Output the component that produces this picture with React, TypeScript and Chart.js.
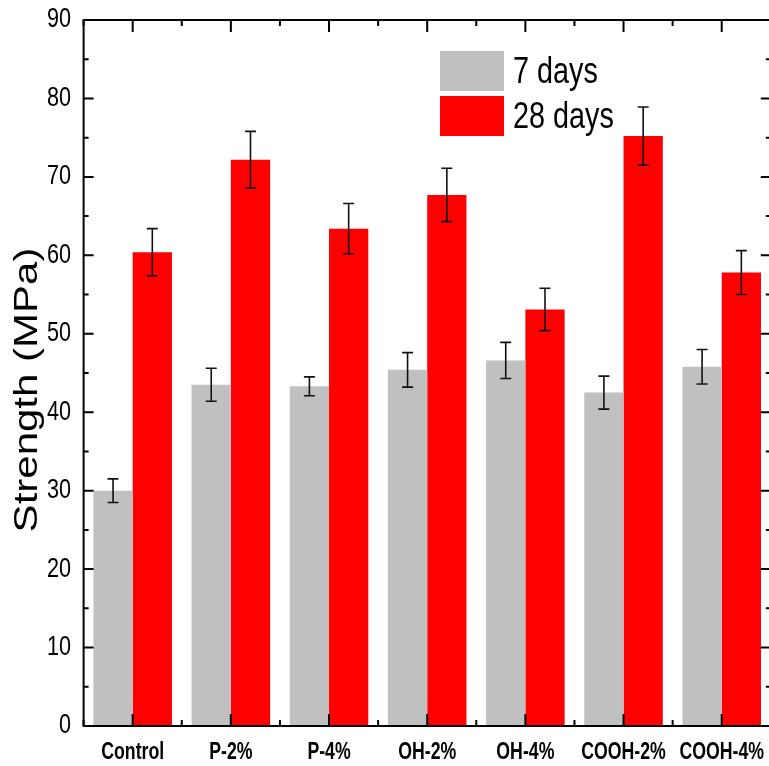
import { useEffect, useRef } from 'react';
import { Chart, registerables } from 'chart.js';

Chart.register(...registerables);

const categories = ['Control', 'P-2%', 'P-4%', 'OH-2%', 'OH-4%', 'COOH-2%', 'COOH-4%'];
const seriesNames = ['7 days', '28 days'];
const days7 = [30.0, 43.5, 43.3, 45.4, 46.6, 42.5, 45.8];
const err7 = [1.5, 2.1, 1.2, 2.2, 2.3, 2.1, 2.2];
const days28 = [60.4, 72.2, 63.4, 67.7, 53.1, 75.2, 57.8];
const err28 = [3.0, 3.6, 3.2, 3.4, 2.7, 3.7, 2.8];
const errors = [err7, err28];
const yMin = 0;
const yMax = 90;
const yStep = 10;
const yTitle = 'Strength (MPa)';
const seriesColors = ['#c0c0c0', '#ff0000'];

const FONT = "Arial, 'Liberation Sans', sans-serif";

const errorBarPlugin = {
  id: 'errorBars',
  afterDatasetsDraw(chart: any) {
    const ctx = chart.ctx;
    const y = chart.scales.y;
    ctx.save();
    ctx.strokeStyle = '#111';
    ctx.lineWidth = 1.6;
    chart.data.datasets.forEach((ds: any, i: number) => {
      const meta = chart.getDatasetMeta(i);
      meta.data.forEach((bar: any, j: number) => {
        const v = ds.data[j];
        const e = errors[i][j];
        const x = bar.x;
        const yt = y.getPixelForValue(v + e);
        const yb = y.getPixelForValue(v - e);
        ctx.beginPath();
        ctx.moveTo(x, yt);
        ctx.lineTo(x, yb);
        ctx.moveTo(x - 5.5, yt);
        ctx.lineTo(x + 5.5, yt);
        ctx.moveTo(x - 5.5, yb);
        ctx.lineTo(x + 5.5, yb);
        ctx.stroke();
      });
    });
    ctx.restore();
  },
};

const framePlugin = {
  id: 'frameAndText',
  afterDraw(chart: any) {
    const ctx = chart.ctx;
    const { left, right, top, bottom } = chart.chartArea;
    const xs = chart.scales.x;
    const ys = chart.scales.y;
    ctx.save();
    ctx.strokeStyle = '#000';
    ctx.lineWidth = 2;
    ctx.strokeRect(left, top, right - left, bottom - top);
    ctx.beginPath();
    for (let v = yMin; v <= yMax; v += yStep / 2) {
      const py = ys.getPixelForValue(v);
      const major = Math.round(v) % yStep === 0;
      const len = major ? 10 : 5;
      ctx.moveTo(left, py);
      ctx.lineTo(left + len, py);
      ctx.moveTo(right, py);
      ctx.lineTo(right - len, py);
    }
    const n = categories.length;
    for (let j = 0; j < n; j++) {
      const px = xs.getPixelForValue(j);
      ctx.moveTo(px, bottom);
      ctx.lineTo(px, bottom - 12);
      ctx.moveTo(px, top);
      ctx.lineTo(px, top + 12);
    }
    for (let j = 0; j <= n; j++) {
      const px = xs.getPixelForValue(j - 0.5);
      ctx.moveTo(px, bottom);
      ctx.lineTo(px, bottom - 6);
      ctx.moveTo(px, top);
      ctx.lineTo(px, top + 6);
    }
    ctx.stroke();

    ctx.fillStyle = '#000';

    // y tick labels (condensed)
    ctx.font = `27px ${FONT}`;
    ctx.textAlign = 'right';
    ctx.textBaseline = 'middle';
    ys.ticks.forEach((t: any) => {
      const py = ys.getPixelForValue(t.value);
      ctx.save();
      ctx.translate(71, py);
      ctx.scale(0.8, 1);
      ctx.fillText(String(t.value), 0, 0);
      ctx.restore();
    });

    // x labels (condensed bold)
    ctx.font = `bold 23px ${FONT}`;
    ctx.textAlign = 'center';
    ctx.textBaseline = 'alphabetic';
    categories.forEach((c, j) => {
      const px = xs.getPixelForValue(j);
      ctx.save();
      ctx.translate(px, 759);
      ctx.scale(0.77, 1);
      ctx.fillText(c, 0, 0);
      ctx.restore();
    });

    // y title
    ctx.save();
    ctx.font = `42px ${FONT}`;
    ctx.translate(37, 390);
    ctx.rotate(-Math.PI / 2);
    ctx.scale(1, 0.8);
    ctx.textAlign = 'center';
    ctx.fillText(yTitle, 0, 0);
    ctx.restore();

    // legend
    const lx = 440;
    const boxW = 64;
    const boxH = 40;
    const rows = [51, 96];
    ctx.font = `36px ${FONT}`;
    ctx.textAlign = 'left';
    ctx.textBaseline = 'alphabetic';
    seriesNames.forEach((name, i) => {
      ctx.fillStyle = seriesColors[i];
      ctx.fillRect(lx, rows[i], boxW, boxH);
      ctx.fillStyle = '#000';
      ctx.save();
      ctx.translate(lx + boxW + 9, rows[i] + boxH - 8);
      ctx.scale(0.8, 1);
      ctx.fillText(name, 0, 0);
      ctx.restore();
    });
    ctx.restore();
  },
};

export default function App() {
  const ref = useRef<HTMLCanvasElement | null>(null);
  useEffect(() => {
    document.body.style.margin = '0';
    const canvas = ref.current;
    if (!canvas) return;
    const chart = new Chart(canvas, {
      type: 'bar',
      data: {
        labels: categories,
        datasets: [
          { label: seriesNames[0], data: days7, backgroundColor: seriesColors[0], borderWidth: 0 },
          { label: seriesNames[1], data: days28, backgroundColor: seriesColors[1], borderWidth: 0 },
        ],
      },
      options: {
        responsive: false,
        animation: false,
        devicePixelRatio: 1,
        layout: { padding: { top: 20, right: 1.2, left: 0, bottom: 0 } },
        datasets: { bar: { categoryPercentage: 0.8, barPercentage: 1.0 } },
        plugins: { legend: { display: false }, tooltip: { enabled: false } },
        scales: {
          x: {
            type: 'category',
            offset: true,
            grid: { display: false },
            border: { display: false },
            ticks: { display: false },
            afterFit: (s: any) => { s.height = 40; },
          },
          y: {
            min: yMin,
            max: yMax,
            grid: { display: false, drawTicks: false },
            border: { display: false },
            ticks: { display: false, stepSize: yStep, autoSkip: false },
            afterFit: (s: any) => { s.width = 83.6; },
          },
        },
      },
      plugins: [errorBarPlugin, framePlugin],
    } as any);
    return () => chart.destroy();
  }, []);
  return (
    <div style={{ width: 769, height: 766, overflow: 'hidden', position: 'relative', background: '#fff' }}>
      <canvas ref={ref} width={772} height={766} style={{ width: 772, height: 766, display: 'block' }} />
    </div>
  );
}
